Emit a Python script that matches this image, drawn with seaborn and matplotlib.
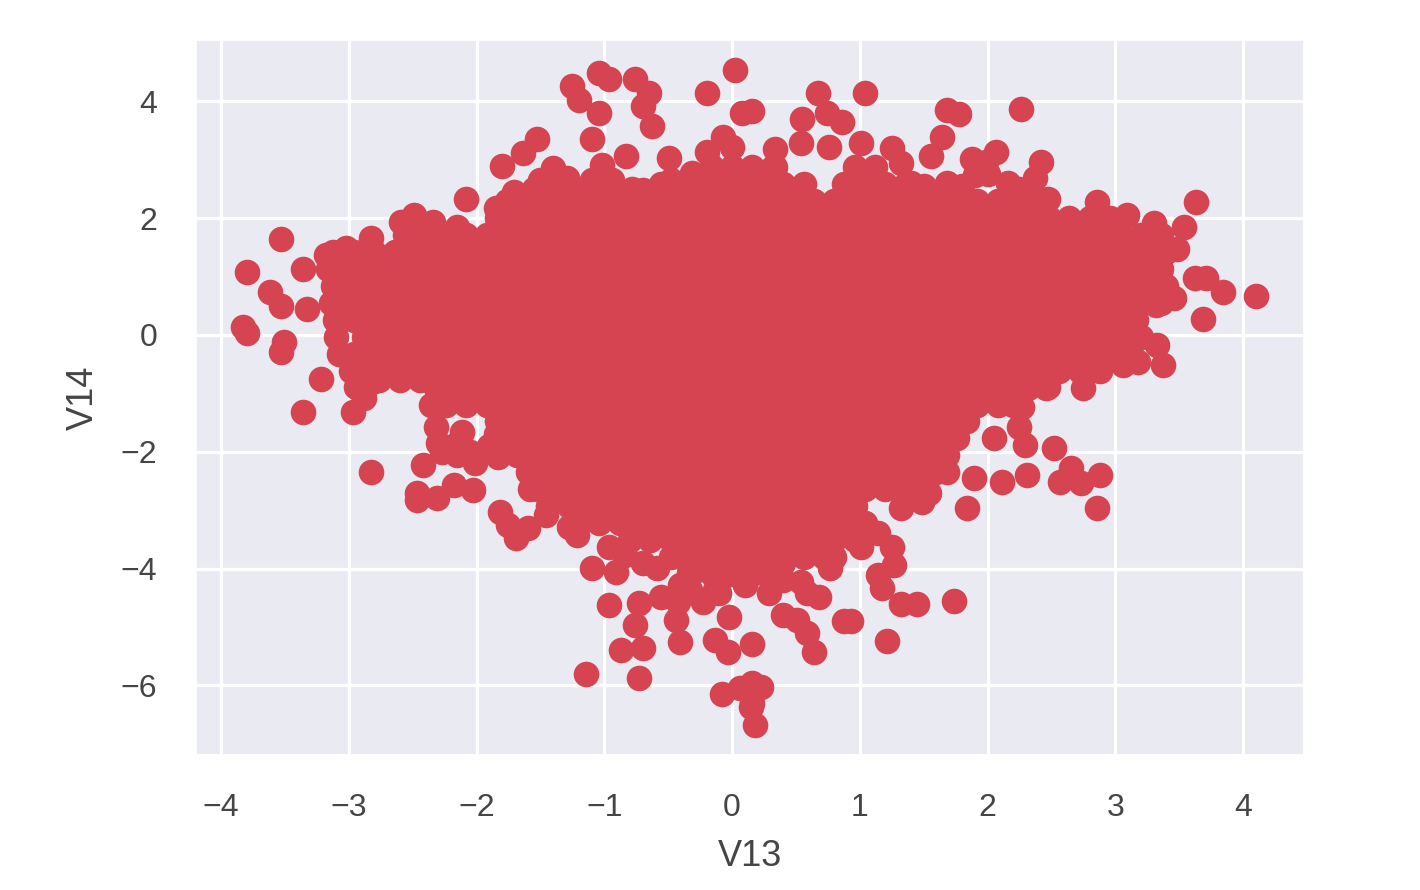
import pandas as pd
import matplotlib
matplotlib.use('Agg')
import matplotlib.pyplot as plt
import seaborn as sns

# points that stand apart or shape the edge of the cloud
edge_v13 = [
    -1.25, -1.20, -1.04, -0.96, -0.76, -0.65, -0.70, -0.63, -1.04, -1.10, 0.02, -0.20, 0.08, 0.16,
    -1.53, -1.64, -1.80, -2.08, -3.53, -3.80, -3.36, -3.62, -3.53, -3.83, -3.80, -3.51, -3.53, -3.22, -3.33,
    -3.18, -3.02, -2.83, -2.59, -2.49, -2.34, -2.15, -1.85, -1.71, -1.50, -1.40, -1.29, -1.10, -1.02, -0.83,
    -0.94, -0.70, -0.49, -0.48, -0.31, -0.20, -0.07, 0.00, 0.00,
    0.67, 1.04, 0.55, 0.74, 0.86, 0.54, 0.76, 1.01, 0.34, 0.17, 0.34, 1.25, 1.32, 1.56, 1.64, 1.68, 1.78, 2.26,
    1.88, 2.07, 1.99, 2.42, 2.37, 2.47, 1.68, 2.16, 1.90, 2.86, 3.09, 3.30, 3.63, 3.54, 3.48, 3.71, 3.84, 4.10,
    3.69, 3.46, 3.32, 3.16, 3.33, 3.37, 3.18, 3.06, 2.86, 2.75, 2.47, 3.62,
    2.27, 2.25, 2.29, 2.05, 2.52, 2.65, 2.57, 2.73, 2.88, 2.31, 2.11, 1.89, 1.84, 2.86, 1.54, 1.32, 1.49,
    1.14, 1.01, 0.77, 1.25, 1.27, 1.14, 1.17, 1.32, 1.45, 1.74, 0.93, 0.88, 1.21, 0.16, 0.10, 0.29, 0.40, 0.40,
    0.54, 0.68, 0.59, 0.40, 0.51, 0.59, 0.64, 0.23, 0.16, 0.18, 0.06, 0.16, -0.08, 0.15,
    -3.36, -2.97, -2.88, -2.94, -2.82, -2.83, -2.42, -2.47, -2.47, -2.31, -2.18, -2.03, -2.27, -2.11, -2.32,
    -2.36, -2.01, -2.17, -1.83, -2.05, -1.82, -1.69, -1.75, -1.60, -1.46, -1.21, -1.28, -1.10, -0.96, -0.91,
    -0.70, -0.59, -0.84, -0.96, -0.73, -0.56, -0.76, -0.87, -0.70, -1.14, -0.73, -0.44, -0.41, -0.42, -0.23,
    -0.10, -0.02, -0.13, -0.03, -0.34, -0.12, -0.33, -0.41, -0.13,
    # filling the gaps along the rim
    -1.55, -1.38, -1.22, -1.06, -0.90, -0.78, 2.00, 1.80, 2.25, 1.50, 1.40,
    -2.76, -2.60, -2.44, -2.30, -2.15, -1.98, -1.90, -1.85,
]
edge_v14 = [
    4.26, 4.02, 4.49, 4.38, 4.38, 4.14, 3.92, 3.58, 3.80, 3.36, 4.54, 4.14, 3.80, 3.84,
    3.36, 3.12, 2.89, 2.33, 1.64, 1.08, 1.13, 0.74, 0.50, 0.14, 0.03, -0.12, -0.29, -0.75, 0.45,
    1.37, 1.49, 1.66, 1.93, 2.05, 1.93, 1.85, 2.17, 2.45, 2.65, 2.86, 2.69, 2.65, 2.91, 3.07,
    2.65, 2.48, 3.03, 2.65, 2.77, 3.13, 3.39, 3.22, 2.88,
    4.14, 4.14, 3.70, 3.80, 3.65, 3.29, 3.22, 3.29, 3.18, 2.71, 2.88, 3.20, 2.95, 3.07, 3.39, 3.85, 3.78, 3.87,
    3.01, 3.13, 2.96, 2.96, 2.69, 2.33, 2.60, 2.60, 2.74, 2.28, 2.05, 1.92, 2.28, 1.85, 1.47, 0.98, 0.74, 0.67,
    0.27, 0.63, 0.51, 0.26, -0.17, -0.51, -0.46, -0.51, -0.60, -0.91, -0.89, 0.98,
    -1.23, -1.58, -1.88, -1.76, -1.93, -2.28, -2.52, -2.53, -2.40, -2.40, -2.52, -2.45, -2.96, -2.96, -2.71, -2.96, -2.86,
    -3.39, -3.63, -3.99, -3.63, -3.94, -4.11, -4.33, -4.61, -4.61, -4.55, -4.90, -4.90, -5.24, -5.29, -4.28, -4.42, -3.90, -4.20,
    -4.23, -4.49, -4.42, -4.79, -4.88, -5.10, -5.43, -6.03, -6.30, -6.68, -6.04, -5.96, -6.15, -6.37,
    -1.32, -1.32, -1.08, -0.89, -0.80, -2.35, -2.23, -2.83, -2.71, -2.79, -2.57, -2.65, -2.00, -1.66, -1.58,
    -1.20, -2.19, -1.88, -2.09, -2.00, -3.03, -3.48, -3.25, -3.30, -3.08, -3.42, -3.29, -3.99, -3.63, -4.06,
    -3.90, -3.99, -3.77, -4.62, -4.59, -4.49, -4.97, -5.39, -5.36, -5.80, -5.87, -4.88, -5.26, -4.57, -4.57,
    -4.42, -4.83, -5.22, -5.43, -4.08, -4.14, -4.37, -4.28, -4.37,
    # filling the gaps along the rim
    2.50, 2.50, 2.50, 2.50, 2.50, 2.50, 2.75, 2.55, 2.50, 2.55, 2.60,
    -0.77, -0.77, -0.77, -1.85, -2.05, -2.05, -1.90, -1.70,
]

# the solid middle of the cloud, estimated band by band (V14 level -> V13 values)
band_levels = [2.88, 2.59, 2.30, 2.00, 1.71, 1.42, 1.13, 0.84, 0.55, 0.26, -0.03, -0.32, -0.61,
               -0.90, -1.19, -1.48, -1.77, -2.06, -2.35, -2.64, -2.93, -3.22, -3.51, -3.80, -4.09]
band_288 = [-0.16, 0, .16, .32, .96, 1.12]
band_259 = [-.56, -.40, -.24, -.08, .08, .24, .40, .56, .88, 1.04, 1.20, 1.36]
band_230 = [-1.76, -1.60, -1.44, -1.28, -1.12, -.96, -.80, -.64, -.48, -.32, -.16, 0, .16, .32, .48, .64, .80, .96,
            1.12, 1.28, 1.44, 1.60, 1.76, 1.92, 2.08, 2.24, 2.40]
band_200 = [-1.84, -1.68, -1.52, -1.36, -1.20, -1.04, -.88, -.72, -.56, -.40, -.24, -.08, .08, .24, .40, .56, .72, .88,
            1.04, 1.20, 1.36, 1.52, 1.68, 1.84, 2.00, 2.16, 2.32, 2.48, 2.64, 2.80, 2.96]
band_171 = [-2.56, -2.40, -2.24, -2.08, -1.92, -1.76, -1.60, -1.44, -1.28, -1.12, -.96, -.80, -.64, -.48, -.32, -.16, 0,
            .16, .32, .48, .64, .80, .96, 1.12, 1.28, 1.44, 1.60, 1.76, 1.92, 2.08, 2.24, 2.40, 2.56, 2.72, 2.88, 3.04,
            3.20, 3.36]
band_142 = [-3.12, -2.96, -2.80, -2.64, -2.48, -2.32, -2.16, -2.00, -1.84, -1.68, -1.52, -1.36, -1.20, -1.04, -.88,
            -.72, -.56, -.40, -.24, -.08, .08, .24, .40, .56, .72, .88, 1.04, 1.20, 1.36, 1.52, 1.68, 1.84, 2.00, 2.16,
            2.32, 2.48, 2.64, 2.80, 2.96, 3.12, 3.28, 3.40]
band_113 = [-3.16, -3.04, -2.88, -2.72, -2.56, -2.40, -2.24, -2.08, -1.92, -1.76, -1.60, -1.44, -1.28, -1.12, -.96,
            -.80, -.64, -.48, -.32, -.16, 0, .16, .32, .48, .64, .80, .96, 1.12, 1.28, 1.44, 1.60, 1.76, 1.92, 2.08,
            2.24, 2.40, 2.56, 2.72, 2.88, 3.04, 3.20, 3.36]
band_084 = [-3.12, -2.96, -2.80, -2.64, -2.48, -2.32, -2.16, -2.00, -1.84, -1.68, -1.52, -1.36, -1.20, -1.04, -.88,
            -.72, -.56, -.40, -.24, -.08, .08, .24, .40, .56, .72, .88, 1.04, 1.20, 1.36, 1.52, 1.68, 1.84, 2.00, 2.16,
            2.32, 2.48, 2.64, 2.80, 2.96, 3.12, 3.28, 3.40]
band_055 = [-3.14, -3.04, -2.88, -2.72, -2.56, -2.40, -2.24, -2.08, -1.92, -1.76, -1.60, -1.44, -1.28, -1.12, -.96,
            -.80, -.64, -.48, -.32, -.16, 0, .16, .32, .48, .64, .80, .96, 1.12, 1.28, 1.44, 1.60, 1.76, 1.92, 2.08,
            2.24, 2.40, 2.56, 2.72, 2.88, 3.04, 3.20, 3.36]
band_026 = [-3.11, -2.96, -2.80, -2.64, -2.48, -2.32, -2.16, -2.00, -1.84, -1.68, -1.52, -1.36, -1.20, -1.04, -.88,
            -.72, -.56, -.40, -.24, -.08, .08, .24, .40, .56, .72, .88, 1.04, 1.20, 1.36, 1.52, 1.68, 1.84, 2.00, 2.16,
            2.32, 2.48, 2.64, 2.80, 2.96, 3.12]
band_n003 = [-3.10, -2.88, -2.72, -2.56, -2.40, -2.24, -2.08, -1.92, -1.76, -1.60, -1.44, -1.28, -1.12, -.96,
             -.80, -.64, -.48, -.32, -.16, 0, .16, .32, .48, .64, .80, .96, 1.12, 1.28, 1.44, 1.60, 1.76, 1.92, 2.08,
             2.24, 2.40, 2.56, 2.72, 2.88, 3.04, 3.20]
band_n032 = [-3.08, -2.96, -2.80, -2.64, -2.48, -2.32, -2.16, -2.00, -1.84, -1.68, -1.52, -1.36, -1.20, -1.04, -.88,
             -.72, -.56, -.40, -.24, -.08, .08, .24, .40, .56, .72, .88, 1.04, 1.20, 1.36, 1.52, 1.68, 1.84, 2.00,
             2.16, 2.32, 2.48, 2.64, 2.80, 2.96, 3.12]
band_n061 = [-2.98, -2.88, -2.72, -2.56, -2.40, -2.24, -2.08, -1.92, -1.76, -1.60, -1.44, -1.28, -1.12, -.96,
             -.80, -.64, -.48, -.32, -.16, 0, .16, .32, .48, .64, .80, .96, 1.12, 1.28, 1.44, 1.60, 1.76, 1.92, 2.08,
             2.24, 2.40, 2.56, 2.72, 2.88]
band_n090 = [-2.32, -2.16, -2.00, -1.84, -1.68, -1.52, -1.36, -1.20, -1.04, -.88, -.72, -.56, -.40, -.24, -.08, .08,
             .24, .40, .56, .72, .88, 1.04, 1.20, 1.36, 1.52, 1.68, 1.84, 2.00, 2.16, 2.32, 2.46]
band_n119 = [-2.32, -2.24, -2.08, -1.92, -1.76, -1.60, -1.44, -1.28, -1.12, -.96, -.80, -.64, -.48, -.32, -.16, 0,
             .16, .32, .48, .64, .80, .96, 1.12, 1.28, 1.44, 1.60, 1.76, 1.92, 2.08, 2.20]
band_n148 = [-1.84, -1.68, -1.52, -1.36, -1.20, -1.04, -.88, -.72, -.56, -.40, -.24, -.08, .08, .24, .40, .56, .72,
             .88, 1.04, 1.20, 1.36, 1.52, 1.68, 1.84]
band_n177 = [-1.76, -1.60, -1.44, -1.28, -1.12, -.96, -.80, -.64, -.48, -.32, -.16, 0, .16, .32, .48, .64, .80, .96,
             1.12, 1.28, 1.44, 1.60, 1.76]
band_n206 = [-1.68, -1.52, -1.36, -1.20, -1.04, -.88, -.72, -.56, -.40, -.24, -.08, .08, .24, .40, .56, .72, .88,
             1.04, 1.20, 1.36, 1.52, 1.68]
band_n235 = [-1.60, -1.44, -1.28, -1.12, -.96, -.80, -.64, -.48, -.32, -.16, 0, .16, .32, .48, .64, .80, .96, 1.12,
             1.28, 1.44, 1.60, 1.68]
band_n264 = [-1.58, -1.52, -1.36, -1.20, -1.04, -.88, -.72, -.56, -.40, -.24, -.08, .08, .24, .40, .56, .72, .88,
             1.04, 1.20, 1.36, 1.52]
band_n293 = [-1.44, -1.28, -1.12, -.96, -.80, -.64, -.48, -.32, -.16, 0, .16, .32, .48, .64, .80, .96]
band_n322 = [-1.20, -1.04, -.88, -.72, -.56, -.40, -.24, -.08, .08, .24, .40, .56, .72, .88, 1.04]
band_n351 = [-.80, -.64, -.48, -.32, -.16, 0, .16, .32, .48, .64, .80, .96]
band_n380 = [-.48, -.40, -.24, -.08, .08, .24, .40, .56, .72, .80]
band_n409 = [-.32, -.16, 0, .16, .27]
band_values = [band_288, band_259, band_230, band_200, band_171, band_142, band_113, band_084, band_055, band_026,
               band_n003, band_n032, band_n061, band_n090, band_n119, band_n148, band_n177, band_n206, band_n235,
               band_n264, band_n293, band_n322, band_n351, band_n380, band_n409]

x_ticks = [-4, -3, -2, -1, 0, 1, 2, 3, 4]
y_ticks = [-6, -4, -2, 0, 2, 4]

# Build the table
frames = [pd.DataFrame({'V13': edge_v13, 'V14': edge_v14})]
for level, values in zip(band_levels, band_values):
    frames.append(pd.DataFrame({'V13': values, 'V14': level}))
df = pd.concat(frames, ignore_index=True)

sns.set_theme(style='darkgrid')
plt.rcParams['font.family'] = ['Liberation Sans', 'DejaVu Sans']

fig = plt.figure(figsize=(14.2, 8.9), dpi=100)
ax = fig.add_axes([196 / 1420, 1 - 755 / 890, 1108 / 1420, 715 / 890])

sns.scatterplot(data=df, x='V13', y='V14', color='#D54450', s=340, linewidth=0, alpha=1, ax=ax)

ax.set_xlim(-4.196, 4.477)
ax.set_ylim(-7.19, 5.05)
ax.set_xticks(x_ticks)
ax.set_yticks(y_ticks)
ax.grid(color='white', linewidth=2.3)
ax.tick_params(axis='x', labelsize=23, labelcolor='#454545', pad=21)
ax.tick_params(axis='y', labelsize=23, labelcolor='#454545', pad=22)
ax.set_xlabel('V13', fontsize=26, color='#454545', labelpad=12)
ax.set_ylabel('V14', fontsize=26, color='#454545', labelpad=14)

fig.savefig('out.png', dpi=100)
